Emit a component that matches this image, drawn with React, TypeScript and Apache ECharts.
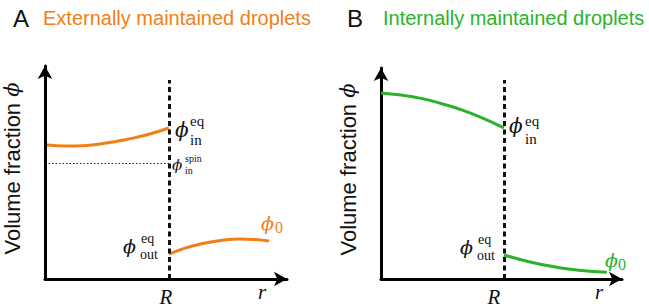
import React, { useEffect, useRef } from 'react';
import * as echarts from 'echarts';

// Panel A: externally maintained droplets (x in arbitrary radius units 0..10, y volume fraction 0..1)
const R_EXT = 5.12;
const extInX = [0.08, 0.9, 1.72, 2.54, 3.36, 4.18, 5.12];
const extInY = [0.629, 0.624, 0.627, 0.638, 0.655, 0.676, 0.709];
const extOutX = [5.12, 5.82, 6.43, 7.25, 8.07, 8.69, 9.26];
const extOutY = [0.117, 0.146, 0.164, 0.181, 0.188, 0.185, 0.178];
const extSpin = 0.545;
const extDashTop = 0.934;

// Panel B: internally maintained droplets
const R_INT = 5.1;
const intInX = [0.0, 0.83, 1.66, 2.49, 3.32, 4.15, 5.1];
const intInY = [0.882, 0.872, 0.856, 0.832, 0.803, 0.766, 0.716];
const intOutX = [5.1, 6.14, 7.17, 8.21, 9.37];
const intOutY = [0.114, 0.082, 0.058, 0.041, 0.032];
const intDashTop = 0.943;

const ORANGE = '#F07F15';
const GREEN = '#2AB32A';
const INK = '#111111';
const SERIF = '"Liberation Serif", "DejaVu Serif", serif';
const PHI = '"DejaVu Serif", "Liberation Serif", serif';
const SANS = '"Liberation Sans", Arial, sans-serif';

const pairs = (xs: number[], ys: number[]) => xs.map((x, i) => [x, ys[i]]);

function txt(text: string, x: number, y: number, size: number, o: any = {}) {
  return {
    type: 'text',
    x,
    y,
    silent: true,
    style: {
      text,
      fill: o.fill || INK,
      fontSize: size,
      fontFamily: o.family || SERIF,
      fontStyle: o.italic ? 'italic' : 'normal',
      align: o.align || 'left',
      verticalAlign: 'middle',
    },
  };
}
const phi = (x: number, y: number, size: number, fill?: string) =>
  txt('ϕ', x, y, size, { italic: true, family: PHI, fill });

const axisCommon = {
  type: 'value',
  axisLine: {
    show: true,
    onZero: false,
    symbol: ['none', 'arrow'],
    symbolSize: [11, 13],
    lineStyle: { color: '#000', width: 3 },
  },
  axisTick: { show: false },
  axisLabel: { show: false },
  splitLine: { show: false },
};

const yName = {
  name: '{a|Volume fraction }{b|ϕ}',
  nameLocation: 'middle',
  nameGap: 22,
  nameTextStyle: {
    padding: [0, 0, 0, 8],
    rich: {
      a: { fontSize: 22, fontFamily: SANS, color: INK },
      b: { fontSize: 21, fontFamily: PHI, fontStyle: 'italic', color: INK },
    },
  },
};

function marks(R: number, top: number, spin?: number) {
  const data: any[] = [
    [
      { coord: [R, 0], lineStyle: { type: [5, 3.5], width: 3, color: INK } },
      { coord: [R, top] },
    ],
  ];
  if (spin !== undefined) {
    data.push([
      { coord: [0, spin], lineStyle: { type: [1.5, 2], width: 1.2, color: '#222' } },
      { coord: [R, spin] },
    ]);
  }
  return {
    silent: true,
    symbol: ['none', 'none'],
    label: { show: false },
    data,
  };
}

export default function App() {
  const ref = useRef<HTMLDivElement>(null);
  useEffect(() => {
    const chart = echarts.init(ref.current!, null, { renderer: 'svg' });
    chart.setOption({
      animation: false,
      grid: [
        { left: 43, right: 362, top: 66, bottom: 29 },
        { left: 381, right: 27, top: 68, bottom: 29 },
      ],
      xAxis: [
        { ...axisCommon, gridIndex: 0, min: 0, max: 10 },
        { ...axisCommon, gridIndex: 1, min: 0, max: 10 },
      ],
      yAxis: [
        { ...axisCommon, ...yName, gridIndex: 0, min: 0, max: 1 },
        { ...axisCommon, ...yName, gridIndex: 1, min: 0, max: 1 },
      ],
      series: [
        {
          type: 'line', xAxisIndex: 0, yAxisIndex: 0, data: pairs(extInX, extInY),
          smooth: true, showSymbol: false, lineStyle: { color: ORANGE, width: 3 },
          markLine: marks(R_EXT, extDashTop, extSpin),
        },
        {
          type: 'line', xAxisIndex: 0, yAxisIndex: 0, data: pairs(extOutX, extOutY),
          smooth: true, showSymbol: false, lineStyle: { color: ORANGE, width: 3 },
        },
        {
          type: 'line', xAxisIndex: 1, yAxisIndex: 1, data: pairs(intInX, intInY),
          smooth: true, showSymbol: false, lineStyle: { color: GREEN, width: 3 },
          markLine: marks(R_INT, intDashTop),
        },
        {
          type: 'line', xAxisIndex: 1, yAxisIndex: 1, data: pairs(intOutX, intOutY),
          smooth: true, showSymbol: false, lineStyle: { color: GREEN, width: 3 },
        },
      ],
      graphic: [
        txt('A', 13, 18, 24, { family: SANS }),
        txt('Externally maintained droplets', 43, 18, 20, { family: SANS, fill: ORANGE }),
        txt('B', 347, 18, 24, { family: SANS }),
        txt('Internally maintained droplets', 383, 18, 20, { family: SANS, fill: GREEN }),
        // Panel A labels
        phi(175, 130, 20),
        txt('eq', 190, 121, 15),
        txt('in', 190, 140, 15),
        phi(172, 165, 15),
        txt('spin', 185, 158, 10),
        txt('in', 185, 170, 10),
        phi(123, 246, 19),
        txt('eq', 141, 238.5, 14),
        txt('out', 140, 254, 14),
        phi(261, 223, 19, ORANGE),
        txt('0', 275, 227, 16, { fill: ORANGE }),
        txt('R', 166, 297, 21, { italic: true, align: 'center' }),
        txt('r', 258, 292, 21, { italic: true }),
        // Panel B labels
        phi(509, 126, 20),
        txt('eq', 525, 121, 15),
        txt('in', 525, 139, 15),
        phi(460, 247, 19),
        txt('eq', 478, 239.5, 14),
        txt('out', 477, 255, 14),
        phi(605, 260, 19, GREEN),
        txt('0', 618, 264, 16, { fill: GREEN }),
        txt('R', 494, 297, 21, { italic: true, align: 'center' }),
        txt('r', 595, 292, 21, { italic: true }),
      ],
    });
    return () => chart.dispose();
  }, []);
  return <div ref={ref} style={{ width: 649, height: 308, position: 'absolute', left: 0, top: 0 }} />;
}
